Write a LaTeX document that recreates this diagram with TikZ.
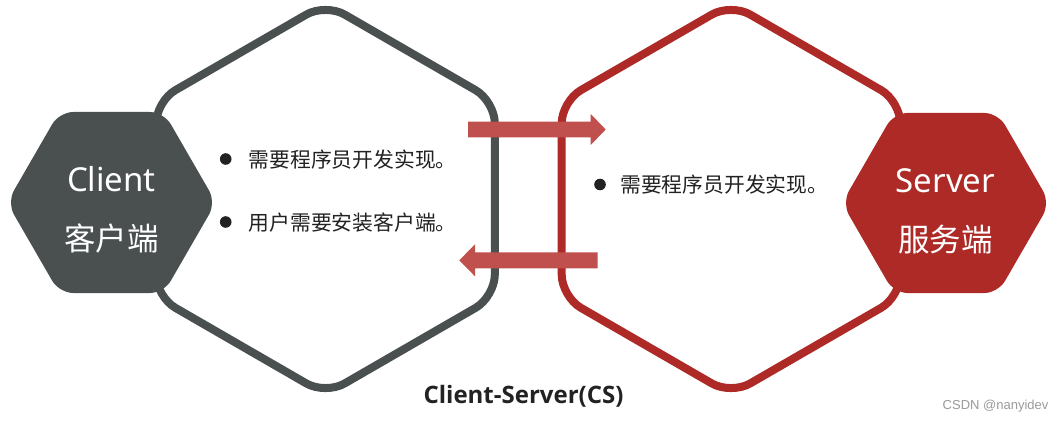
\documentclass[tikz,border=0pt]{standalone}
\usepackage{fontspec}
\usetikzlibrary{calc}
\newfontfamily\cjkfont{Noto Sans CJK SC}
\newfontfamily\latinfont{Noto Sans}
\newfontfamily\titlefont{Open Sans}
\newfontfamily\wmfont{Liberation Sans}
\definecolor{cgray}{HTML}{4A5050}
\definecolor{cred}{HTML}{AD2A27}
\definecolor{carrow}{HTML}{C0504D}
\definecolor{ctext}{HTML}{222222}
\definecolor{cwm}{HTML}{9A9A9A}
\tikzset{
  bighex/.style={line width=8pt, rounded corners=22pt, line join=round},
  smallhex/.style={rounded corners=14pt},
  blockarrow/.style={fill=carrow},
  bigword/.style={text=white, inner sep=0pt, anchor=base},
  item/.style={text=ctext, inner sep=0pt, anchor=base west, font=\cjkfont\fontsize{20.8pt}{24pt}\selectfont},
  dot/.style={fill=ctext},
}
\begin{document}
\begin{tikzpicture}[x=1pt,y=-1pt]
\useasboundingbox[fill=white] (0,0) rectangle (1064,422);
% large outlined hexagons
\draw[bighex, draw=cgray] (325.5,3.5) -- (494.8,101.25) -- (494.8,296.75) -- (325.5,394.5) -- (156.2,296.75) -- (156.2,101.25) -- cycle;
\draw[bighex, draw=cred] (731,3.5) -- (900.3,101.25) -- (900.3,296.75) -- (731,394.5) -- (561.7,296.75) -- (561.7,101.25) -- cycle;
% small filled hexagons
\fill[smallhex, cgray] (216,202.5) -- (163.75,293) -- (59.25,293) -- (7,202.5) -- (59.25,112) -- (163.75,112) -- cycle;
\fill[smallhex, cred] (1050,203) -- (998,293.1) -- (894,293.1) -- (842,203) -- (894,112.9) -- (998,112.9) -- cycle;
% block arrows
\coordinate (upS) at (468,129.5);
\coordinate (upT) at (605.7,129.5);
\coordinate (dnS) at (597.7,260.3);
\coordinate (dnT) at (459.3,260.3);
\fill[blockarrow] ($(upS)+(0,-7.8)$) -- ($(upT)+(-15,-7.8)$) -- ($(upT)+(-15,-15.5)$) -- (upT) -- ($(upT)+(-15,15.5)$) -- ($(upT)+(-15,7.8)$) -- ($(upS)+(0,7.8)$) -- cycle;
\fill[blockarrow] ($(dnS)+(0,-8)$) -- ($(dnT)+(15.7,-8)$) -- ($(dnT)+(15.7,-16)$) -- (dnT) -- ($(dnT)+(15.7,16)$) -- ($(dnT)+(15.7,8)$) -- ($(dnS)+(0,8)$) -- cycle;
% hexagon labels
\node[bigword, font=\latinfont\fontsize{33pt}{36pt}\selectfont] (clientEn) at (111.5,191) {Client};
\node[bigword, font=\cjkfont\fontsize{31.5pt}{36pt}\selectfont] (clientZh) at (111.5,250.5) {客户端};
\node[bigword, font=\latinfont\fontsize{33pt}{36pt}\selectfont] (serverEn) at (945.5,193) {Server};
\node[bigword, font=\cjkfont\fontsize{31.5pt}{36pt}\selectfont] (serverZh) at (945.5,251.5) {服务端};
% bullet items
\fill[dot] (225.7,159) circle (5.8pt);
\fill[dot] (225.7,222) circle (5.8pt);
\fill[dot] (600,184.5) circle (5.8pt);
\node[item] (c1) at (248.5,167.5) {需要程序员开发实现。};
\node[item] (c2) at (248.5,230) {用户需要安装客户端。};
\node[item] (s1) at (620,193) {需要程序员开发实现。};
% caption
\node[text=ctext, inner sep=0pt, anchor=base, font=\titlefont\bfseries\fontsize{24pt}{28pt}\selectfont] (title) at (523.5,403.5) {Client-Server(CS)};
\node[text=cwm, inner sep=0pt, anchor=base west, font=\wmfont\fontsize{13pt}{15pt}\selectfont] (wm) at (942.5,409.5) {CSDN @nanyidev};
\end{tikzpicture}
\end{document}
